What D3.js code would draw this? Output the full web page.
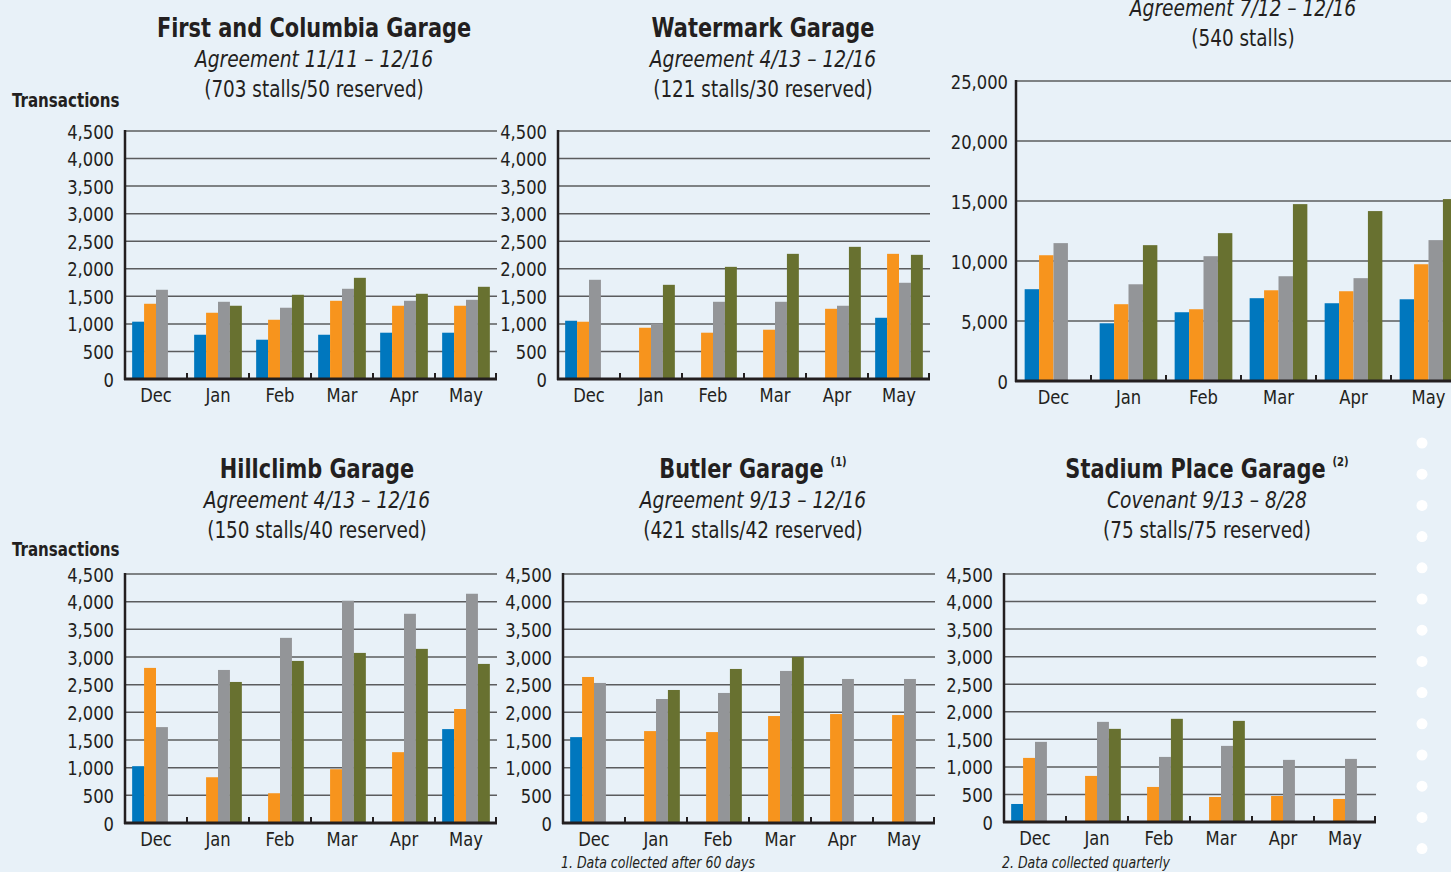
<!DOCTYPE html>
<html lang="en">
  <head>
    <meta charset="UTF-8" />
    <title>Garage transactions</title>
    <style>
      body {
        margin: 0;
        background-color: #e8f1f8;
      }
      svg {
        display: block;
        font-family: "Liberation Sans Narrow", "DejaVu Sans Condensed", "Roboto", sans-serif;
      }
      .grid line {
        stroke: #5b5c5e;
        stroke-width: 1.5px;
      }
      .tick-label {
        font-size: 20px;
        fill: #231f20;
      }
      .title {
        font-size: 27px;
        font-weight: bold;
        fill: #231f20;
      }
      .sub {
        font-size: 23px;
        font-style: italic;
        fill: #231f20;
      }
      .stalls {
        font-size: 23px;
        fill: #231f20;
      }
      .ylabel {
        font-size: 20px;
        font-weight: bold;
        fill: #231f20;
      }
      .note {
        font-size: 15px;
        font-style: italic;
        fill: #231f20;
      }
    </style>
  </head>

  <body>
    <div class="container"></div>

    <script src="https://d3js.org/d3.v7.min.js"></script>
    <script>
      const months = ["Dec", "Jan", "Feb", "Mar", "Apr", "May"];
      const seriesKeys = ["s1", "s2", "s3", "s4"];
      const colors = ["#0077be", "#f7941d", "#939598", "#687130"];

      const smallTicks = [0, 500, 1000, 1500, 2000, 2500, 3000, 3500, 4000, 4500];
      const bigTicks = [0, 5000, 10000, 15000, 20000, 25000];

      // one array per series (blue, orange, gray, green), months Dec..May
      const firstColumbia = [
        [1040, 803, 713, 803, 840, 840],
        [1365, 1202, 1075, 1419, 1329, 1329],
        [1619, 1401, 1293, 1637, 1419, 1437],
        [null, 1329, 1528, 1836, 1546, 1673]
      ];
      const watermark = [
        [1057, 0, 0, 0, 0, 1111],
        [1039, 930, 840, 894, 1274, 2271],
        [1800, 1003, 1401, 1401, 1329, 1746],
        [null, 1709, 2035, 2271, 2398, 2253]
      ];
      const bigGarage = [
        [7650, 4810, 5730, 6900, 6480, 6810],
        [10480, 6400, 5980, 7560, 7480, 9730],
        [11490, 8060, 10400, 8730, 8570, 11740],
        [null, 11320, 12320, 14740, 14160, 15160]
      ];
      const hillclimb = [
        [1027, 0, 0, 0, 0, 1697],
        [2803, 827, 538, 972, 1280, 2060],
        [1733, 2766, 3346, 4017, 3781, 4143],
        [null, 2549, 2929, 3074, 3147, 2875]
      ];
      const butler = [
        [1552, 0, 0, 0, 0, 0],
        [2639, 1661, 1643, 1933, 1969, 1951],
        [2531, 2241, 2350, 2748, 2603, 2603],
        [null, 2404, 2784, 3002, null, null]
      ];
      const stadium = [
        [327, 0, 0, 0, 0, 0],
        [1163, 836, 636, 454, 472, 418],
        [1454, 1817, 1181, 1381, 1127, 1145],
        [null, 1690, 1872, 1835, null, null]
      ];

      const w = 1451,
        h = 872;

      const svg = d3
        .select(".container")
        .append("svg")
        .attr("width", w)
        .attr("height", h);

      // the only condensed face here is DejaVu Sans Condensed, still wider than the original
      const squeeze = (sel, k) => {
        sel.each(function () {
          const t = d3.select(this);
          const x = +t.attr("x") || 0,
            y = +t.attr("y") || 0;
          t.attr("transform", `translate(${x},${y}) scale(${k},1) translate(${-x},${-y})`);
        });
      };

      const charts = [
        { data: firstColumbia, x0: 125, x1: 497, top: 131, bottom: 379, ticks: smallTicks,
          cx: 314, ty: 37, title: "First and Columbia Garage", sup: null,
          sub: "Agreement 11/11 \u2013 12/16", stalls: "(703 stalls/50 reserved)", ylab: 107 },
        { data: watermark, x0: 558, x1: 930, top: 131, bottom: 379, ticks: smallTicks,
          cx: 763, ty: 37, title: "Watermark Garage", sup: null,
          sub: "Agreement 4/13 \u2013 12/16", stalls: "(121 stalls/30 reserved)" },
        { data: bigGarage, x0: 1016, x1: 1466, top: 81, bottom: 381, ticks: bigTicks,
          cx: 1243, ty: -14, title: "", sup: null,
          sub: "Agreement 7/12 \u2013 12/16", stalls: "(540 stalls)" },
        { data: hillclimb, x0: 125, x1: 497, top: 574, bottom: 823, ticks: smallTicks,
          cx: 317, ty: 478, title: "Hillclimb Garage", sup: null,
          sub: "Agreement 4/13 \u2013 12/16", stalls: "(150 stalls/40 reserved)", ylab: 556 },
        { data: butler, x0: 563, x1: 935, top: 574, bottom: 823, ticks: smallTicks,
          cx: 753, ty: 478, title: "Butler Garage", sup: "(1)",
          sub: "Agreement 9/13 \u2013 12/16", stalls: "(421 stalls/42 reserved)",
          note: "1. Data collected after 60 days" },
        { data: stadium, x0: 1004, x1: 1376, top: 574, bottom: 822, ticks: smallTicks,
          cx: 1207, ty: 478, title: "Stadium Place Garage", sup: "(2)",
          sub: "Covenant 9/13 \u2013 8/28", stalls: "(75 stalls/75 reserved)",
          note: "2. Data collected quarterly" }
      ];

      // decorative dots on the right edge
      svg
        .selectAll("circle.dot")
        .data(d3.range(14))
        .enter()
        .append("circle")
        .attr("class", "dot")
        .attr("cx", 1422)
        .attr("cy", (d) => 443 + d * 31.2)
        .attr("r", 5.5)
        .attr("fill", "#fff");

      charts.forEach((c) => {
        const g = svg.append("g");

        const xScale = d3.scaleBand().domain(months).range([c.x0, c.x1]);
        const xInner = d3
          .scaleBand()
          .domain(seriesKeys)
          .range([0, xScale.bandwidth()])
          .paddingOuter(0.6);
        const yScale = d3
          .scaleLinear()
          .domain([0, d3.max(c.ticks)])
          .range([c.bottom, c.top]);

        // gridlines
        g.append("g")
          .attr("class", "grid")
          .selectAll("line")
          .data(c.ticks.slice(1))
          .enter()
          .append("line")
          .attr("x1", c.x0)
          .attr("x2", c.x1)
          .attr("y1", (d) => yScale(d))
          .attr("y2", (d) => yScale(d));

        // bars
        const rows = [];
        c.data.forEach((vals, si) => {
          vals.forEach((v, mi) => {
            if (v != null && v > 0) rows.push({ m: months[mi], s: seriesKeys[si], v: v, si: si });
          });
        });

        g.selectAll("rect")
          .data(rows)
          .enter()
          .append("rect")
          .attr("x", (d) => xScale(d.m) + xInner(d.s))
          .attr("width", xInner.bandwidth())
          .attr("y", (d) => yScale(d.v))
          .attr("height", (d) => yScale(0) - yScale(d.v))
          .attr("fill", (d) => colors[d.si]);

        // y axis tick labels
        const yAxis = d3
          .axisLeft(yScale)
          .tickValues(c.ticks)
          .tickSize(0)
          .tickPadding(c.ticks === bigTicks ? 8 : 11)
          .tickFormat(d3.format(","));
        const ya = g.append("g").attr("transform", "translate(" + c.x0 + ",0)").call(yAxis);
        ya.select(".domain").remove();
        ya.attr("font-family", null).attr("font-size", null);
        ya.selectAll("text").attr("class", "tick-label").attr("dy", "0.35em");
        squeeze(ya.selectAll("text"), 0.91);

        // y axis line
        g.append("line")
          .attr("x1", c.x0)
          .attr("x2", c.x0)
          .attr("y1", c.top - 1)
          .attr("y2", c.bottom + 1)
          .attr("stroke", "#231f20")
          .attr("stroke-width", 2.5);

        // x axis
        const xAxis = d3.axisBottom(xScale).tickSize(0).tickPadding(9);
        const xa = g.append("g").attr("transform", "translate(0," + c.bottom + ")").call(xAxis);
        xa.select(".domain").remove();
        xa.attr("font-family", null).attr("font-size", null);
        xa.selectAll("text").attr("class", "tick-label").attr("dy", "0.71em");
        squeeze(xa.selectAll("text"), 0.91);

        g.append("line")
          .attr("x1", c.x0 - 1)
          .attr("x2", c.x1)
          .attr("y1", c.bottom)
          .attr("y2", c.bottom)
          .attr("stroke", "#231f20")
          .attr("stroke-width", 3);

        // small separators between months
        g.selectAll("line.sep")
          .data(months.slice(1).concat(["end"]))
          .enter()
          .append("line")
          .attr("class", "sep")
          .attr("x1", (d) => (d === "end" ? c.x1 - 1 : xScale(d)))
          .attr("x2", (d) => (d === "end" ? c.x1 - 1 : xScale(d)))
          .attr("y1", c.bottom)
          .attr("y2", c.bottom - 6)
          .attr("stroke", "#231f20")
          .attr("stroke-width", 2);

        // titles
        if (c.title) {
          const t = g.append("text")
            .attr("class", "title")
            .attr("x", c.cx)
            .attr("y", c.ty)
            .attr("text-anchor", "middle")
            .text(c.title);
          if (c.sup) {
            t.append("tspan")
              .attr("font-size", "13px")
              .attr("dy", "-0.9em")
              .attr("dx", "8")
              .text(c.sup);
          }
          squeeze(t, 0.86);
        }
        squeeze(
          g.append("text")
            .attr("class", "sub")
            .attr("x", c.cx)
            .attr("y", c.ty + 30)
            .attr("text-anchor", "middle")
            .text(c.sub),
          0.9
        );
        squeeze(
          g.append("text")
            .attr("class", "stalls")
            .attr("x", c.cx)
            .attr("y", c.ty + 60)
            .attr("text-anchor", "middle")
            .text(c.stalls),
          0.89
        );

        if (c.ylab) {
          squeeze(
            g.append("text")
              .attr("class", "ylabel")
              .attr("x", 12)
              .attr("y", c.ylab)
              .text("Transactions"),
            0.84
          );
        }
        if (c.note) {
          squeeze(
            g.append("text")
              .attr("class", "note")
              .attr("x", c.x0 - 2)
              .attr("y", 868)
              .text(c.note),
            0.93
          );
        }
      });
    </script>
  </body>
</html>
